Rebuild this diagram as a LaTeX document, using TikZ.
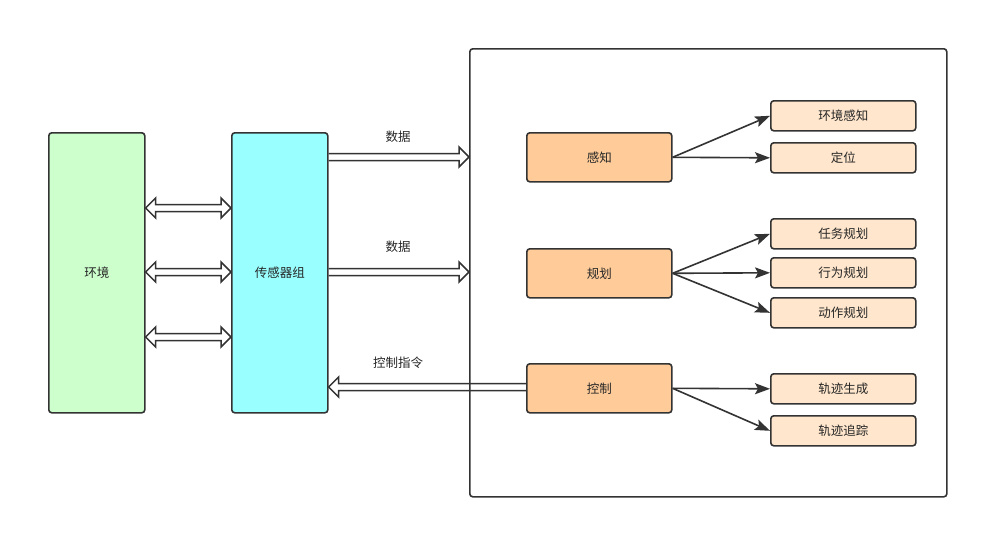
\documentclass[tikz,border=0pt]{standalone}
\usepackage{fontspec}
\setmainfont{Noto Sans CJK SC}
\usetikzlibrary{arrows.meta,calc}
\definecolor{stk}{HTML}{333333}
\definecolor{envc}{HTML}{CCFFCC}
\definecolor{senc}{HTML}{99FFFF}
\definecolor{orc}{HTML}{FFCC99}
\definecolor{ltc}{HTML}{FFE6CC}
\tikzset{
  box/.style={draw=stk, line width=1.6pt, rounded corners=3pt, inner sep=0pt, anchor=north west, font=\fontsize{12.5}{14}\selectfont, text=black!85},
  flex/.style={draw=stk, line width=1.5pt, line join=miter},
  plainarr/.style={draw=stk, line width=1.6pt, -{Stealth[length=15pt,width=11pt,inset=3pt]}},
  lbl/.style={font=\fontsize{12.5}{14}\selectfont, text=black!85},
}
\newcommand\flexR[2]{\draw[flex] ([yshift=3.5pt]#1) -- ([xshift=-10pt,yshift=3.5pt]#2) -- ([xshift=-10pt,yshift=10pt]#2) -- (#2) -- ([xshift=-10pt,yshift=-10pt]#2) -- ([xshift=-10pt,yshift=-3.5pt]#2) -- ([yshift=-3.5pt]#1);}
\newcommand\flexL[2]{\draw[flex] ([yshift=3.5pt]#1) -- ([xshift=10pt,yshift=3.5pt]#2) -- ([xshift=10pt,yshift=10pt]#2) -- (#2) -- ([xshift=10pt,yshift=-10pt]#2) -- ([xshift=10pt,yshift=-3.5pt]#2) -- ([yshift=-3.5pt]#1);}
\newcommand\flexB[2]{\draw[flex, fill=white] ([xshift=10pt,yshift=3.5pt]#1) -- ([xshift=-10pt,yshift=3.5pt]#2) -- ([xshift=-10pt,yshift=10pt]#2) -- (#2) -- ([xshift=-10pt,yshift=-10pt]#2) -- ([xshift=-10pt,yshift=-3.5pt]#2) -- ([xshift=10pt,yshift=-3.5pt]#1) -- ([xshift=10pt,yshift=-10pt]#1) -- (#1) -- ([xshift=10pt,yshift=10pt]#1) -- cycle;}
\begin{document}
\begin{tikzpicture}[x=1pt,y=-1pt]
\useasboundingbox (0,0) rectangle (1008,558);
% container
\node[box, fill=white, minimum width=477pt, minimum height=448pt] (cont) at (469,48) {};
% left boxes
\node[box, fill=envc, minimum width=96pt, minimum height=280pt] (env) at (48,132) {环境};
\node[box, fill=senc, minimum width=96pt, minimum height=280pt] (sen) at (231,132) {传感器组};
% middle boxes
\node[box, fill=orc, minimum width=145pt, minimum height=49pt] (perc) at (526,132) {感知};
\node[box, fill=orc, minimum width=145pt, minimum height=49pt] (plan) at (526,248) {规划};
\node[box, fill=orc, minimum width=145pt, minimum height=49pt] (ctrl) at (526,363) {控制};
% right boxes
\node[box, fill=ltc, minimum width=145pt, minimum height=30pt] (p1) at (770,100) {环境感知};
\node[box, fill=ltc, minimum width=145pt, minimum height=30pt] (p2) at (770,142) {定位};
\node[box, fill=ltc, minimum width=145pt, minimum height=30pt] (q1) at (770,218) {任务规划};
\node[box, fill=ltc, minimum width=145pt, minimum height=30pt] (q2) at (770,257) {行为规划};
\node[box, fill=ltc, minimum width=145pt, minimum height=30pt] (q3) at (770,297) {动作规划};
\node[box, fill=ltc, minimum width=145pt, minimum height=30pt] (r1) at (770,373) {轨迹生成};
\node[box, fill=ltc, minimum width=145pt, minimum height=30pt] (r2) at (770,415) {轨迹追踪};
% double arrows env <-> sensors
\coordinate (e1) at (env.east |- 0,208); \coordinate (s1) at (sen.west |- 0,208);
\coordinate (e2) at (env.east |- 0,272); \coordinate (s2) at (sen.west |- 0,272);
\coordinate (e3) at (env.east |- 0,337); \coordinate (s3) at (sen.west |- 0,337);
\flexB{e1}{s1}
\flexB{e2}{s2}
\flexB{e3}{s3}
% data arrows
\coordinate (d1a) at (sen.east |- 0,157); \coordinate (d1b) at (cont.west |- 0,157);
\coordinate (d2a) at (sen.east |- 0,272); \coordinate (d2b) at (cont.west |- 0,272);
\flexR{d1a}{d1b}
\flexR{d2a}{d2b}
\coordinate (c1a) at (ctrl.west |- 0,387); \coordinate (c1b) at (sen.east |- 0,387);
\flexL{c1a}{c1b}
\node[lbl] (l1) at (398,137) {数据};
\node[lbl] (l2) at (398,247) {数据};
\node[lbl] (l3) at (398,363) {控制指令};
% plain arrows
\draw[plainarr] (perc.east) -- (p1.west);
\draw[plainarr] (perc.east) -- (p2.west);
\draw[plainarr] (plan.east) -- (q1.west);
\draw[plainarr] (plan.east) -- (q2.west);
\draw[plainarr] (plan.east) -- (q3.west);
\draw[plainarr] (ctrl.east) -- (r1.west);
\draw[plainarr] (ctrl.east) -- (r2.west);
\end{tikzpicture}
\end{document}
